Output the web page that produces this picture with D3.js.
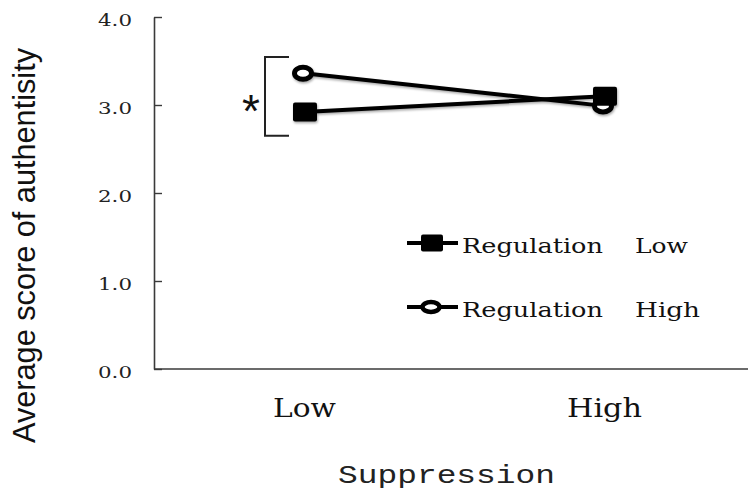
<!DOCTYPE html>
<html>
<head>
<meta charset="utf-8">
<script src="https://cdn.jsdelivr.net/npm/d3@7"></script>
<style>
  html, body { margin: 0; padding: 0; background: #fff; }
  svg { display: block; }
</style>
</head>
<body>
<svg id="chart" width="748" height="494"></svg>
<script>
// Suppression level on the x axis
const categories = ["Low", "High"];
// Regulation groups (legend entries)
const seriesNames = ["Regulation", "Regulation"];
const seriesLevels = ["Low", "High"];
// Average authenticity score per suppression level
const regulationLow = [2.92, 3.10];
const regulationHigh = [3.36, 2.99];
// Y axis ticks
const yTicks = [0, 1, 2, 3, 4];
const yTickLabels = ["0.0", "1.0", "2.0", "3.0", "4.0"];
// Significance bracket span (score units) at Suppression Low
const bracketSpan = [2.65, 3.545];

const svg = d3.select("#chart");
const ink = "#000";
const axisInk = "#3a3a3a";

// soft drop shadow under the plotted series
const defs = svg.append("defs");
const f = defs.append("filter").attr("id", "shadow")
  .attr("x", "-20%").attr("y", "-40%").attr("width", "140%").attr("height", "180%");
f.append("feDropShadow").attr("dx", 0.8).attr("dy", 1.6)
  .attr("stdDeviation", 1.2).attr("flood-color", "#000").attr("flood-opacity", 0.35);

const x = d3.scalePoint().domain(categories).range([154, 754]).padding(0.5);
const y = d3.scaleLinear().domain([0, 4]).range([369, 17]);

// y axis: ticks point into the plot, labels on the left
const yAxis = d3.axisLeft(y)
  .tickValues(yTicks)
  .tickFormat((d, i) => yTickLabels[i])
  .tickSizeInner(-8).tickSizeOuter(0).tickPadding(22);
const gy = svg.append("g").attr("transform", "translate(154,0)").call(yAxis);
gy.select(".domain").attr("stroke", axisInk).attr("stroke-width", 1.6);
gy.selectAll(".tick line").attr("stroke", axisInk).attr("stroke-width", 1.4);
gy.selectAll(".tick text")
  .attr("font-family", "'DejaVu Serif', serif")
  .attr("font-size", 17.5)
  .attr("fill", "#222")
  .attr("dy", "0.48em")
  .attr("textLength", 34)
  .attr("lengthAdjust", "spacingAndGlyphs");

// x axis: plain baseline with category labels
const xAxis = d3.axisBottom(x).tickSize(0).tickPadding(0);
const gx = svg.append("g").attr("transform", "translate(0,369)").call(xAxis);
gx.select(".domain").attr("stroke", axisInk).attr("stroke-width", 1.6)
  .attr("d", "M154,0H748");
const xLabelWidths = { Low: 63, High: 75 };
gx.selectAll(".tick text")
  .attr("font-family", "'DejaVu Serif', serif")
  .attr("font-size", 26)
  .attr("fill", "#111")
  .attr("y", 48).attr("dy", 0)
  .attr("textLength", d => xLabelWidths[d])
  .attr("lengthAdjust", "spacingAndGlyphs");

// axis titles
svg.append("text")
  .attr("x", 446.5).attr("y", 483)
  .attr("text-anchor", "middle")
  .attr("font-family", "'Liberation Mono', monospace")
  .attr("font-size", 26)
  .attr("fill", "#222")
  .attr("textLength", 217).attr("lengthAdjust", "spacingAndGlyphs")
  .text("Suppression");

svg.append("text")
  .attr("transform", "translate(35,245.5) rotate(-90)")
  .attr("text-anchor", "middle")
  .attr("font-family", "'Liberation Sans Narrow', 'Liberation Sans', Arial, sans-serif")
  .attr("font-size", 31)
  .attr("fill", "#111")
  .attr("textLength", 395).attr("lengthAdjust", "spacingAndGlyphs")
  .text("Average score of authentisity");

// significance bracket at Suppression Low
const bx = 265, bxr = 289;
svg.append("path")
  .attr("d", `M${bxr},${y(bracketSpan[1])}H${bx}V${y(bracketSpan[0])}H${bxr}`)
  .attr("fill", "none").attr("stroke", "#222").attr("stroke-width", 2);
svg.append("text")
  .attr("x", 251).attr("y", 127)
  .attr("text-anchor", "middle")
  .attr("font-family", "'Liberation Sans', Arial, sans-serif")
  .attr("font-size", 46)
  .attr("fill", "#111")
  .text("*");

// series
const line = d3.line().x((d, i) => x(categories[i])).y(d => y(d));
const plot = svg.append("g").attr("filter", "url(#shadow)");

function drawCircle(g, cx, cy, rx, ry, sw) {
  g.append("ellipse").attr("cx", cx).attr("cy", cy).attr("rx", rx).attr("ry", ry)
    .attr("fill", "#fff").attr("stroke", ink).attr("stroke-width", sw);
}
function drawSquare(g, cx, cy, w, h) {
  g.append("rect").attr("x", cx - w / 2).attr("y", cy - h / 2)
    .attr("width", w).attr("height", h).attr("rx", 2)
    .attr("fill", ink);
}

// Regulation High (open circles) underneath
plot.append("path").datum(regulationHigh).attr("d", line)
  .attr("fill", "none").attr("stroke", ink).attr("stroke-width", 4);
regulationHigh.forEach((v, i) => drawCircle(plot, x(categories[i]) - 1, y(v), 8.5, 6, 5));

// Regulation Low (filled squares) on top
plot.append("path").datum(regulationLow).attr("d", line)
  .attr("fill", "none").attr("stroke", ink).attr("stroke-width", 4);
regulationLow.forEach((v, i) => drawSquare(plot, x(categories[i]) + 1, y(v), 24, 19));

// legend
const legendRows = [243, 307];
const legendTextWidths = { Low: 53, High: 65 };
seriesNames.forEach((name, i) => {
  const cy = legendRows[i];
  const g = svg.append("g");
  g.append("line").attr("x1", 407).attr("x2", 458).attr("y1", cy).attr("y2", cy)
    .attr("stroke", ink).attr("stroke-width", 4);
  if (i === 0) drawSquare(g, 432, cy, 22, 17);
  else drawCircle(g, 431, cy, 8.5, 5, 4.5);
  const t = g.append("text")
    .attr("y", cy + 10)
    .attr("font-family", "'DejaVu Serif', serif")
    .attr("font-size", 20)
    .attr("fill", "#111");
  t.append("tspan").attr("x", 462).attr("textLength", 141)
    .attr("lengthAdjust", "spacingAndGlyphs").text(name);
  t.append("tspan").attr("x", 635).attr("textLength", legendTextWidths[seriesLevels[i]])
    .attr("lengthAdjust", "spacingAndGlyphs").text(seriesLevels[i]);
});
</script>
</body>
</html>
